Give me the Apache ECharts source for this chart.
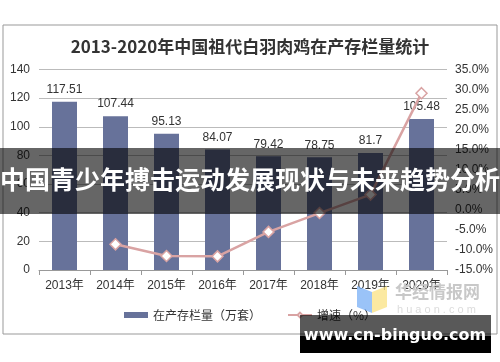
<!DOCTYPE html>
<html><head><meta charset="utf-8">
<script src="https://cdn.jsdelivr.net/npm/echarts@6/dist/echarts.min.js"></script>
<style>html,body{margin:0;padding:0;background:#fff}#c{width:500px;height:362px}</style>
</head><body><div id="c"></div>
<script>
const categories = ['2013年','2014年','2015年','2016年','2017年','2018年','2019年','2020年'];
const stockValues = [117.51, 107.44, 95.13, 84.07, 79.42, 78.75, 81.7, 105.48];
const growthValues = [null, -8.6, -11.5, -11.6, -5.5, -0.8, 3.8, 29.1];
const titleText = '2013-2020年中国祖代白羽肉鸡在产存栏量统计';
const barName = '在产存栏量（万套）';
const lineName = '增速（%）';
const bannerText = '中国青少年搏击运动发展现状与未来趋势分析';
const siteText = 'www.cn-binguo.com';

const chart = echarts.init(document.getElementById('c'));
chart.setOption({
  backgroundColor: '#fff',
  animation: false,
  title: {
    text: titleText, left: 'center', top: 33,
    textStyle: {fontFamily: 'Noto Sans CJK SC', fontWeight: 'bold', fontSize: 17, color: '#333'}
  },
  legend: {
    bottom: 36, left: 'center', itemGap: 26, itemWidth: 24, itemHeight: 6,
    textStyle: {fontFamily: 'Noto Sans CJK SC', fontSize: 12, color: '#333'},
    data: [{name: barName, icon: 'rect'}, {name: lineName}]
  },
  grid: {left: 39, right: 53, top: 69.5, bottom: 92},
  xAxis: {
    type: 'category', data: categories,
    axisLine: {lineStyle: {color: '#999'}},
    axisTick: {show: true, lineStyle: {color: '#999'}},
    axisLabel: {color: '#333', fontSize: 12, fontFamily: 'Liberation Sans, Noto Sans CJK SC', margin: 10}
  },
  yAxis: [{
    type: 'value', min: 0, max: 140, interval: 20,
    axisLine: {show: false}, axisTick: {show: false},
    splitLine: {lineStyle: {color: '#bbb'}},
    axisLabel: {color: '#333', fontSize: 12, fontFamily: 'Liberation Sans', margin: 9}
  }, {
    type: 'value', min: -15, max: 35, interval: 5,
    axisLine: {show: false}, axisTick: {show: false}, splitLine: {show: false},
    axisLabel: {color: '#333', fontSize: 12, fontFamily: 'Liberation Sans', margin: 8,
      formatter: v => v.toFixed(1) + '%'}
  }],
  series: [{
    name: barName, type: 'bar', data: stockValues, barWidth: 25,
    itemStyle: {color: '#67729a'},
    label: {show: true, position: 'top', distance: 6, color: '#333', fontSize: 12, fontFamily: 'Liberation Sans'}
  }, {
    name: lineName, type: 'line', yAxisIndex: 1, data: growthValues,
    lineStyle: {color: '#d9a3a3', width: 2.5},
    itemStyle: {color: '#fff', borderColor: '#d9a3a3', borderWidth: 1.5},
    symbol: 'diamond', symbolSize: 11
  }],
  graphic: [
    {type: 'rect', z: 0, silent: true, shape: {x: 3, y: 25, width: 494, height: 309},
      style: {fill: 'none', stroke: '#999', lineWidth: 1}},
    {type: 'polygon', z: 50, shape: {points: [[357,286],[372,292],[372,313],[357,307]]}, style: {fill: 'rgba(120,175,245,0.75)'}},
    {type: 'polygon', z: 50, shape: {points: [[372,292],[387,286],[387,307],[372,313]]}, style: {fill: 'rgba(250,225,130,0.75)'}},
    {type: 'text', z: 50, left: 395, top: 283, style: {text: '华经情报网', fill: '#c8c8c8', fontSize: 17, fontWeight: 'bold', fontFamily: 'Noto Sans CJK SC'}},
    {type: 'text', z: 50, left: 397, top: 304, style: {text: 'h u a o n . c o m', fill: '#dcdcdc', fontSize: 11, fontFamily: 'Liberation Sans'}},
    {type: 'rect', z: 100, shape: {x: 0, y: 148, width: 500, height: 66}, style: {fill: 'rgba(0,0,0,0.6)'}},
    {type: 'text', z: 101, left: 'center', top: 167, style: {text: bannerText, fill: '#fff', fontSize: 25, fontWeight: 'bold', fontFamily: 'Noto Sans CJK SC'}},
    {type: 'rect', z: 100, shape: {x: 300, y: 315, width: 191, height: 21}, style: {fill: 'rgba(0,0,0,0.65)'}},
    {type: 'rect', z: 100, shape: {x: 300, y: 336, width: 191, height: 17}, style: {fill: '#000'}},
    {type: 'text', z: 101, style: {x: 395, y: 336, text: siteText, align: 'center', verticalAlign: 'middle', fill: '#fff', fontSize: 16, fontWeight: 'bold', fontFamily: 'DejaVu Sans'}}
  ]
});
</script></body></html>
